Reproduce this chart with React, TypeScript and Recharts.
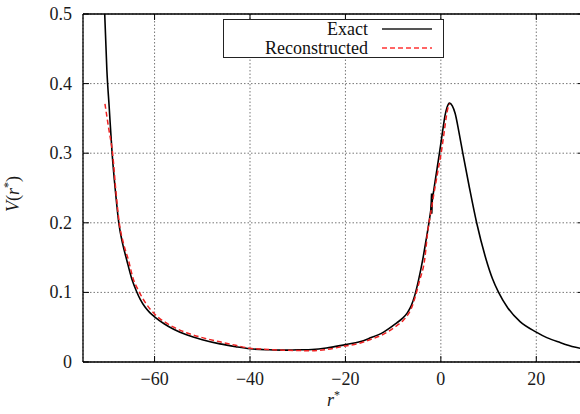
import React from "react";
import { LineChart, Line, XAxis, YAxis, CartesianGrid } from "recharts";

// r*, V(r*) pairs
const exactCurve: [number, number][] = [
  [-70.45, 0.5], [-70.0, 0.42], [-69.5, 0.365], [-68.9, 0.3], [-68.2, 0.245],
  [-67.5, 0.2], [-66.7, 0.17], [-65.85, 0.147], [-64.8, 0.12], [-63.75, 0.101],
  [-63.0, 0.09], [-62.0, 0.079], [-61.0, 0.071], [-60.0, 0.065], [-58.0, 0.055],
  [-56.0, 0.047], [-53.3, 0.039], [-50.0, 0.032], [-46.3, 0.026], [-43.0, 0.022],
  [-40.0, 0.019], [-36.0, 0.0175], [-33.0, 0.017], [-30.0, 0.0175], [-27.0, 0.018],
  [-24.0, 0.02], [-20.0, 0.025], [-17.0, 0.029], [-15.0, 0.034], [-12.0, 0.043],
  [-9.3, 0.056], [-8.0, 0.063], [-7.0, 0.071], [-6.2, 0.081], [-5.5, 0.095],
  [-4.7, 0.117], [-3.8, 0.147], [-3.1, 0.175], [-2.5, 0.2], [-1.9, 0.228],
  [-1.2, 0.26], [-0.3, 0.3], [0.4, 0.333], [0.9, 0.355], [1.3, 0.366],
  [1.8, 0.372], [2.4, 0.368], [3.0, 0.357], [3.8, 0.33], [4.6, 0.3],
  [6.0, 0.25], [7.5, 0.2], [9.5, 0.147], [10.8, 0.12], [12.1, 0.1],
  [14.0, 0.078], [16.6, 0.058], [20.0, 0.043], [22.2, 0.035], [25.0, 0.028],
  [28.0, 0.0215], [30.0, 0.0185],
];

const exactGlitch: [number, number][] = [
  [-1.85, 0.242], [-2.0, 0.213],
];

const reconstructedCurve: [number, number][] = [
  [-70.4, 0.371], [-69.6, 0.335], [-68.8, 0.3], [-68.1, 0.245], [-67.4, 0.2],
  [-66.5, 0.17], [-65.5, 0.147], [-64.5, 0.12], [-63.4, 0.103], [-62.0, 0.086],
  [-60.0, 0.069], [-58.0, 0.058], [-56.0, 0.05], [-53.3, 0.042], [-50.0, 0.035],
  [-46.3, 0.029], [-43.0, 0.024], [-40.0, 0.0197], [-36.0, 0.018], [-33.0, 0.017],
  [-30.0, 0.0165], [-27.4, 0.016], [-24.0, 0.018], [-20.0, 0.023], [-17.0, 0.027],
  [-14.9, 0.032], [-12.0, 0.04], [-9.3, 0.052], [-8.0, 0.059], [-7.0, 0.067],
  [-6.2, 0.077], [-5.4, 0.093], [-4.5, 0.116], [-3.4, 0.147], [-2.7, 0.19],
  [-2.1, 0.215], [-1.5, 0.24], [-0.6, 0.275], [0.06, 0.3], [0.75, 0.333],
  [1.2, 0.355], [1.6, 0.368], [1.9, 0.371],
];

const xTicks = [-60, -40, -20, 0, 20];
const yTicks = [0, 0.1, 0.2, 0.3, 0.4, 0.5];
const xDomain: [number, number] = [-75, 30];
const yDomain: [number, number] = [0, 0.5];

const seriesNames = ["Exact", "Reconstructed"];
const seriesColors = ["#000000", "#ee2222"];
const legendColors = ["#555555", "#ff3333"];
const seriesDash = ["", "5 3"];

const toPts = (arr: [number, number][]) => arr.map(([r, v]) => ({ r, v }));

const FONT = "\"Liberation Serif\", \"Times New Roman\", Times, serif";
const textStyle: React.CSSProperties = { fontFamily: FONT, fontSize: 18 };
const TICK_LEN = 6;

const fmtX = (v: number) => (v < 0 ? "\u2212" + Math.abs(v) : String(v));
const fmtY = (v: number) => (v === 0 ? "0" : v.toFixed(1));

const BottomTick = (props: any) => {
  const { x, y, payload } = props;
  return (
    <g>
      <line x1={x} y1={y} x2={x} y2={y - TICK_LEN} stroke="#000" strokeWidth={1} />
      <text x={x} y={y + 23} textAnchor="middle" style={textStyle} fill="#1a1a1a">
        {fmtX(payload.value)}
      </text>
    </g>
  );
};

const LeftTick = (props: any) => {
  const { x, y, payload } = props;
  return (
    <g>
      <line x1={x} y1={y} x2={x + TICK_LEN} y2={y} stroke="#000" strokeWidth={1} />
      <text x={x - 11} y={y + 6} textAnchor="end" style={textStyle} fill="#1a1a1a">
        {fmtY(payload.value)}
      </text>
    </g>
  );
};

const TopTick = (props: any) => {
  const { x, y } = props;
  return <line x1={x} y1={y} x2={x} y2={y + TICK_LEN} stroke="#000" strokeWidth={1} />;
};

const RightTick = (props: any) => {
  const { x, y } = props;
  return <line x1={x} y1={y} x2={x - TICK_LEN} y2={y} stroke="#000" strokeWidth={1} />;
};

const YLabel = (props: any) => {
  const vb = props.viewBox || { x: 0, y: 14, width: 83, height: 348 };
  const cx = vb.x + 19;
  const cy = vb.y + vb.height / 2 + 6;
  return (
    <text
      x={cx}
      y={cy}
      transform={`rotate(-90, ${cx}, ${cy})`}
      textAnchor="middle"
      style={textStyle}
      fill="#1a1a1a"
    >
      <tspan fontStyle="italic">V</tspan>
      <tspan>(</tspan>
      <tspan fontStyle="italic">r</tspan>
      <tspan dy={-7} fontSize={12}>*</tspan>
      <tspan dy={7}>)</tspan>
    </text>
  );
};

const XLabel = (props: any) => {
  const vb = props.viewBox || { x: 83, y: 362, width: 501, height: 52 };
  const cx = vb.x + vb.width / 2;
  const cy = vb.y + 44;
  return (
    <text x={cx} y={cy} textAnchor="middle" style={textStyle} fill="#1a1a1a">
      <tspan fontStyle="italic">r</tspan>
      <tspan dy={-7} fontSize={12}>*</tspan>
    </text>
  );
};

const LegendBox = () => (
  <svg
    width={221}
    height={39}
    style={{ position: "absolute", left: 223, top: 19 }}
  >
    <rect x={0.5} y={0.5} width={220} height={38} fill="#fff" stroke="#222" strokeWidth={1} />
    {seriesNames.map((name, i) => {
      const cy = 10 + i * 19;
      return (
        <g key={name}>
          <text x={145} y={cy + 6} textAnchor="end" style={textStyle} fill="#111">
            {name}
          </text>
          <line
            x1={159}
            x2={209}
            y1={cy}
            y2={cy}
            stroke={legendColors[i]}
            strokeWidth={i === 0 ? 2 : 1.5}
            strokeDasharray={seriesDash[i] || undefined}
          />
        </g>
      );
    })}
  </svg>
);

export default function App() {
  return (
    <div
      style={{
        position: "absolute",
        left: 0,
        top: 0,
        width: 580,
        height: 414,
        overflow: "hidden",
        background: "#fff",
      }}
    >
      <LineChart width={590} height={414} margin={{ top: 0, right: 0, left: 0, bottom: 0 }}>
        <CartesianGrid stroke="#777" strokeDasharray="1.5 2" strokeWidth={1} />
        <XAxis
          xAxisId={0}
          type="number"
          dataKey="r"
          domain={xDomain}
          ticks={xTicks}
          allowDataOverflow
          height={52}
          tickSize={0}
          tickMargin={0}
          tickLine={false}
          axisLine={{ stroke: "#000", strokeWidth: 1.3 }}
          tick={<BottomTick />}
          label={<XLabel />}
        />
        <XAxis
          xAxisId="top"
          orientation="top"
          type="number"
          dataKey="r"
          domain={xDomain}
          ticks={xTicks}
          allowDataOverflow
          height={14}
          tickSize={0}
          tickMargin={0}
          tickLine={false}
          axisLine={{ stroke: "#000", strokeWidth: 1.3 }}
          tick={<TopTick />}
        />
        <YAxis
          yAxisId={0}
          type="number"
          domain={yDomain}
          ticks={yTicks}
          allowDataOverflow
          width={83}
          tickSize={0}
          tickMargin={0}
          tickLine={false}
          axisLine={{ stroke: "#000", strokeWidth: 1.3 }}
          tick={<LeftTick />}
          label={<YLabel />}
        />
        <YAxis
          yAxisId="right"
          orientation="right"
          type="number"
          domain={yDomain}
          ticks={yTicks}
          allowDataOverflow
          width={6}
          tickSize={0}
          tickMargin={0}
          tickLine={false}
          axisLine={{ stroke: "#000", strokeWidth: 1.3 }}
          tick={<RightTick />}
        />
        <Line
          data={toPts(exactCurve)}
          dataKey="v"
          name={seriesNames[0]}
          type="monotone"
          stroke={seriesColors[0]}
          strokeWidth={1.6}
          dot={false}
          isAnimationActive={false}
        />
        <Line
          data={toPts(exactGlitch)}
          dataKey="v"
          name="glitch"
          type="linear"
          stroke={seriesColors[0]}
          strokeWidth={2.5}
          dot={false}
          isAnimationActive={false}
        />
        <Line
          data={toPts(reconstructedCurve)}
          dataKey="v"
          name={seriesNames[1]}
          type="monotone"
          stroke={seriesColors[1]}
          strokeWidth={1.5}
          strokeDasharray={seriesDash[1]}
          dot={false}
          isAnimationActive={false}
        />
      </LineChart>
      <LegendBox />
    </div>
  );
}
